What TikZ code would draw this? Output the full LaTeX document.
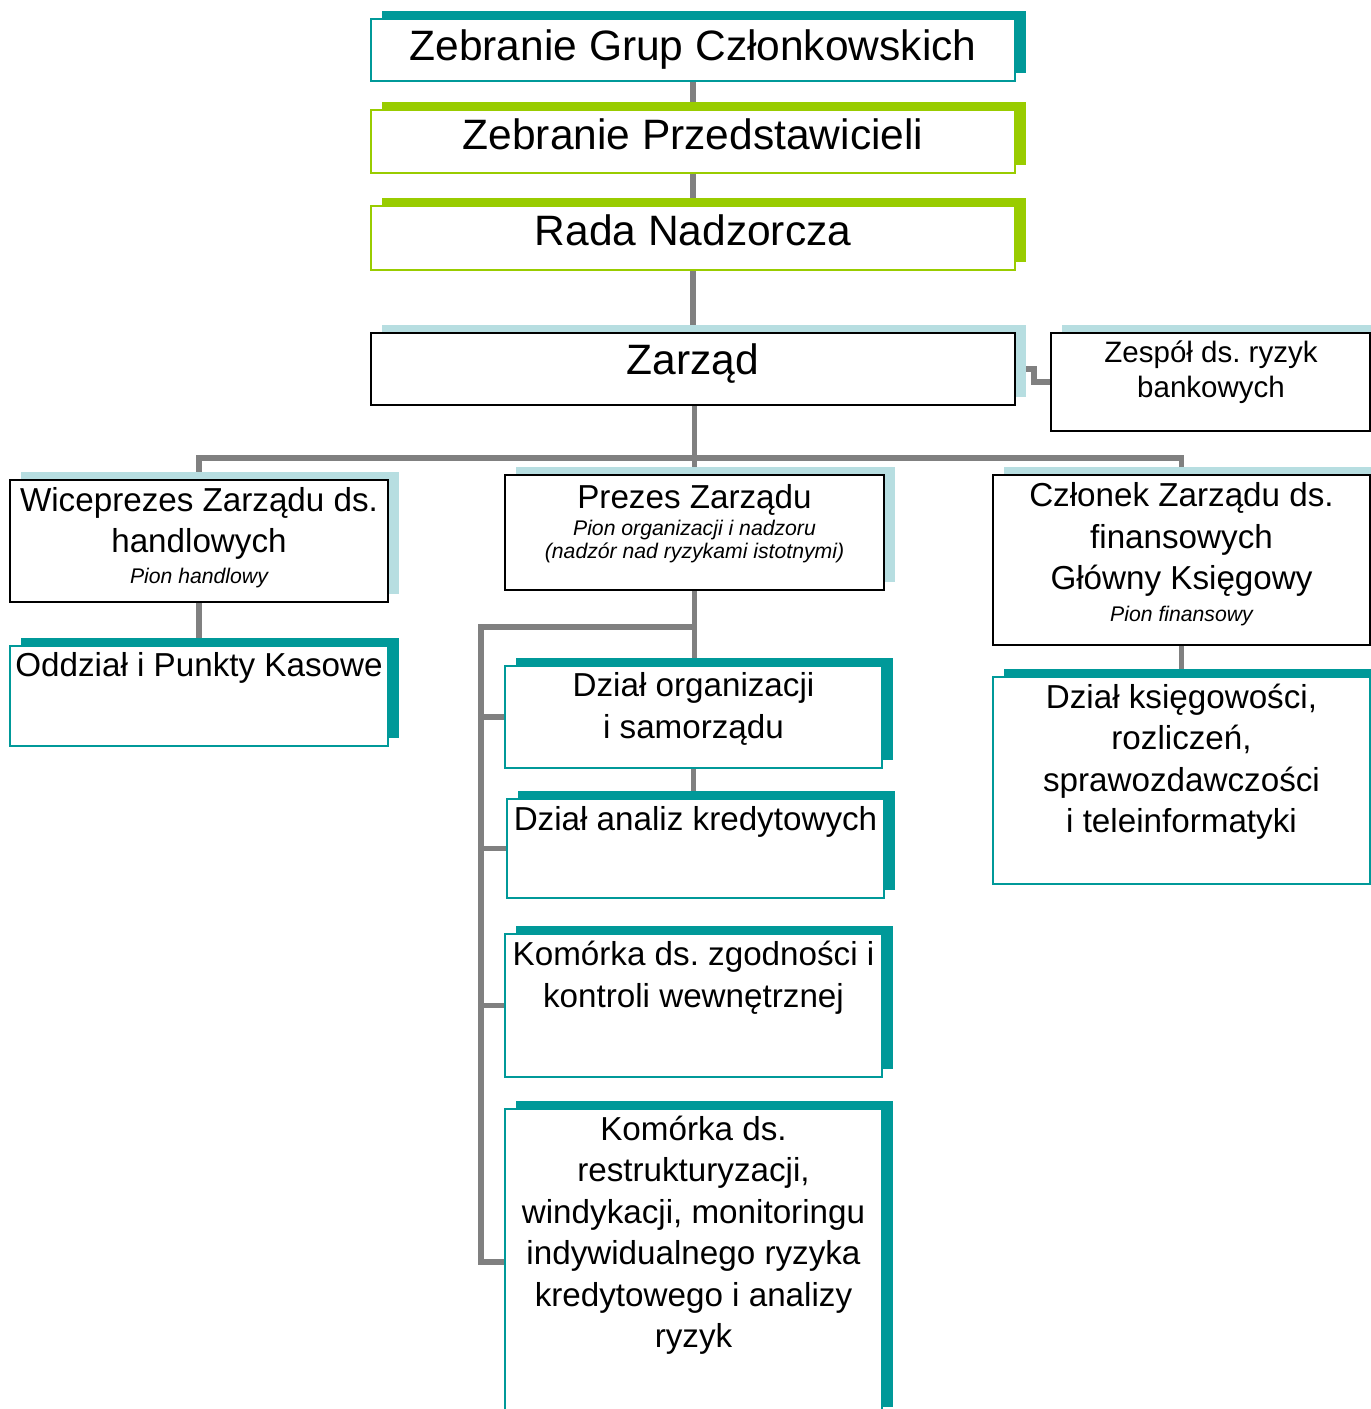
\documentclass[tikz,border=0pt]{standalone}
\usepackage{fontspec}
\setmainfont{Liberation Sans}
\frenchspacing
\usetikzlibrary{shadows,backgrounds}
\definecolor{orgteal}{RGB}{0,153,153}
\definecolor{orggreen}{RGB}{153,204,0}
\definecolor{orgblue}{RGB}{183,222,225}
\definecolor{orggray}{RGB}{128,128,128}
\begin{document}
\begin{tikzpicture}[x=1pt,y=-1pt,
    orgbox/.style={rectangle, fill=white, line width=1.8pt, inner sep=0pt},
    tealbox/.style={orgbox, draw=orgteal, general shadow={fill=orgteal, shadow xshift=10.5pt, shadow yshift=8pt}},
    greenbox/.style={orgbox, draw=orggreen, general shadow={fill=orggreen, shadow xshift=10.5pt, shadow yshift=8pt}},
    bluebox/.style={orgbox, draw=black, general shadow={fill=orgblue, shadow xshift=10.5pt, shadow yshift=8pt}},
    link/.style={orggray, line width=5.5pt},
    bigtxt/.style={font=\fontsize{42.5}{50}\selectfont, anchor=base, inner sep=0pt},
    boxtxt/.style={font=\fontsize{33.2}{41.5}\selectfont, anchor=base, align=center, inner sep=0pt},
    subtxt/.style={font=\fontsize{21.2}{23}\selectfont\itshape, anchor=base, align=center, inner sep=0pt},
    teamtxt/.style={font=\fontsize{29.5}{35}\selectfont, anchor=base, align=center, inner sep=0pt}]
    \useasboundingbox (0,0) rectangle (1371,1409);
    % upper bodies
    \node[tealbox, minimum width=644, minimum height=62] (zgc) at (693,50) {};
    \node[greenbox, minimum width=644, minimum height=63] (zp) at (693,141.5) {};
    \node[greenbox, minimum width=644, minimum height=64] (rn) at (693,238) {};
    \node[bluebox, minimum width=644, minimum height=72] (zarzad) at (693,369) {};
    \node[bluebox, minimum width=319, minimum height=98] (zespol) at (1210.5,382) {};
    \node[bigtxt] (zgc-t) at (693,60) {Zebranie Grup Członkowskich};
    \node[bigtxt] (zp-t) at (693,149) {Zebranie Przedstawicieli};
    \node[bigtxt] (rn-t) at (693,245) {Rada Nadzorcza};
    \node[bigtxt] (zarzad-t) at (693,374) {Zarząd};
    \node[teamtxt] (zespol-t) at (1211,397) {Zespół ds. ryzyk\\bankowych};
    % board members (base = last line)
    \node[bluebox, minimum width=378, minimum height=122] (wice) at (199,541) {};
    \node[bluebox, minimum width=379, minimum height=115] (prezes) at (694.5,532.5) {};
    \node[bluebox, minimum width=377, minimum height=170] (czlonek) at (1181.5,560) {};
    \node[boxtxt] (wice-t) at (199,552.5) {Wiceprezes Zarządu ds.\\handlowych};
    \node[subtxt] (wice-s) at (199,583) {Pion handlowy};
    \node[boxtxt] (prezes-t) at (694.5,508) {Prezes Zarządu};
    \node[subtxt] (prezes-s) at (694.5,558) {Pion organizacji i nadzoru\\(nadzór nad ryzykami istotnymi)};
    \node[boxtxt] (czlonek-t) at (1181.5,589.5) {Członek Zarządu ds.\\finansowych\\Główny Księgowy};
    \node[subtxt] (czlonek-s) at (1181.5,621) {Pion finansowy};
    % departments
    \node[tealbox, minimum width=378, minimum height=100] (oddzial) at (199,696) {};
    \node[tealbox, minimum width=377, minimum height=102] (dorg) at (693.5,717) {};
    \node[tealbox, minimum width=377, minimum height=99] (danaliz) at (695.5,848.5) {};
    \node[tealbox, minimum width=377, minimum height=143] (kzgod) at (693.5,1005.5) {};
    \node[tealbox, minimum width=377, minimum height=306] (krestr) at (693.5,1262) {};
    \node[tealbox, minimum width=377, minimum height=207] (dksieg) at (1181.5,780.5) {};
    \node[boxtxt] (oddzial-t) at (199,676) {Oddział i Punkty Kasowe};
    \node[boxtxt] (dorg-t) at (693.5,738) {Dział organizacji\\i samorządu};
    \node[boxtxt] (danaliz-t) at (695.5,830) {Dział analiz kredytowych};
    \node[boxtxt] (kzgod-t) at (693.5,1007) {Komórka ds. zgodności i\\kontroli wewnętrznej};
    \node[boxtxt] (krestr-t) at (693.5,1347.5) {Komórka ds.\\restrukturyzacji,\\windykacji, monitoringu\\indywidualnego ryzyka\\kredytowego i analizy\\ryzyk};
    \node[boxtxt] (dksieg-t) at (1181.5,832.5) {Dział księgowości,\\rozliczeń,\\sprawozdawczości\\i teleinformatyki};
    \coordinate (bus) at (693,458);
    \coordinate (pbus) at (481,627);
    \begin{pgfonlayer}{background}
        \draw[link] (zgc) -- (zp);
        \draw[link] (zp) -- (rn);
        \draw[link] (rn) -- (zarzad);
        \draw[link] (zarzad.east) -- ++(18,0) |- (zespol.west);
        \draw[link] (prezes.north |- zarzad.south) -- (prezes.north);
        \draw[link] (wice.north) |- (bus) -| (czlonek.north);
        \draw[link] (wice.south) -- (oddzial.north);
        \draw[link] (czlonek.south) -- (dksieg.north);
        \draw[link] (prezes.south) |- (pbus) |- (krestr.west);
        \draw[link] (pbus) |- (dorg.west);
        \draw[link] (pbus) |- (danaliz.west);
        \draw[link] (pbus) |- (kzgod.west);
        \draw[link] (prezes.south) -- (prezes.south |- dorg.north);
        \draw[link] (dorg.south) -- (dorg.south |- danaliz.north);
    \end{pgfonlayer}
\end{tikzpicture}
\end{document}
